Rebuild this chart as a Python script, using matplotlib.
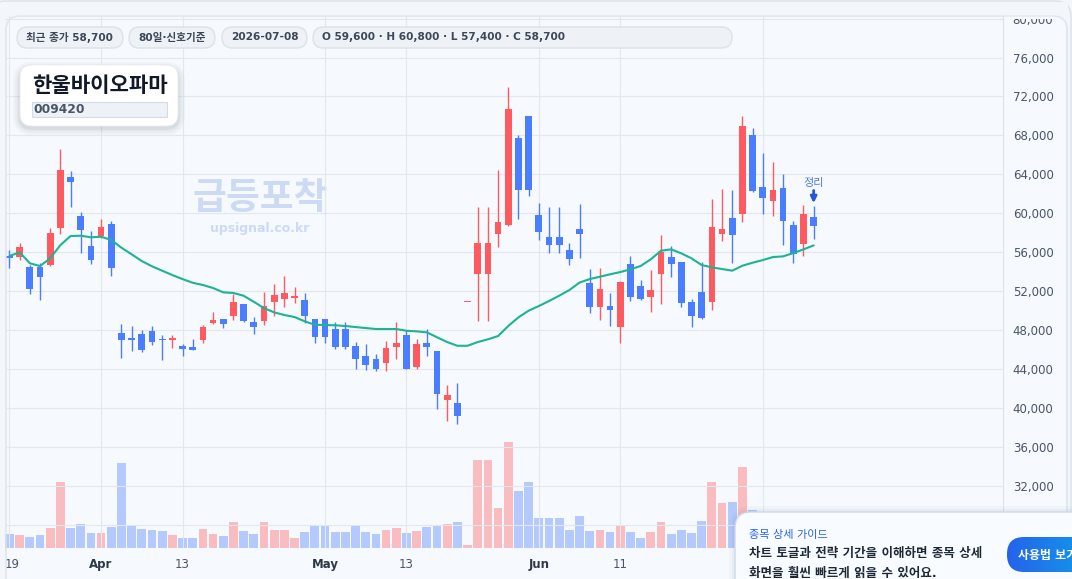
import numpy as np
import pandas as pd
import matplotlib
matplotlib.use('Agg')
import matplotlib.pyplot as plt
from matplotlib.patches import FancyBboxPatch, Rectangle
from matplotlib.transforms import IdentityTransform, ScaledTranslation
from matplotlib.colors import LinearSegmentedColormap

plt.rcParams['font.family'] = ['DejaVu Sans', 'Noto Sans CJK KR']

# ---- data ----
dates = pd.bdate_range('2026-03-19', '2026-07-08')

opens = [55600, 55500, 54500, 54500, 54700, 58500, 63700, 59700, 56600, 57700,
         58900, 47700, 47200, 47600, 47900, 47100, 47000, 46400, 46300, 47000,
         48700, 49200, 49500, 50700, 48800, 48900, 50900, 51200, 51300, 51100,
         49200, 49200, 48100, 48100, 46400, 45400, 45000, 44600, 46300, 47500,
         44200, 46700, 45900, 40800, 40500, 50900, 53800, 53800, 57900, 58800,
         67700, 70000, 59800, 57600, 57600, 56200, 58400, 52800, 50400, 50500,
         48300, 54800, 52500, 51400, 53800, 55500, 55000, 50900, 51900, 50900,
         57900, 59500, 59900, 68000, 62700, 61300, 62600, 58800, 56800, 59600]
highs = [56200, 57000, 54700, 54900, 58500, 66600, 64300, 60100, 58200, 59400,
         59200, 48600, 48400, 48000, 48400, 47500, 47500, 46600, 47100, 48500,
         49900, 49200, 51700, 50700, 49400, 51900, 52700, 53600, 52400, 51800,
         49200, 49200, 48800, 48800, 46800, 46600, 45600, 46900, 48800, 47900,
         47100, 48100, 45900, 42400, 42600, 50900, 60600, 60600, 64500, 73000,
         68000, 70000, 61100, 60700, 60700, 57000, 61000, 54300, 54400, 51800,
         53100, 55600, 53200, 54200, 57800, 56600, 55000, 51200, 55000, 61500,
         62500, 62400, 70000, 68800, 66200, 65300, 64000, 59200, 60900, 60800]
lows = [54400, 55200, 51700, 51100, 54600, 57900, 60700, 55900, 54800, 57500,
        53600, 45100, 45900, 45800, 46500, 44900, 46200, 45400, 46000, 46700,
        48600, 48200, 49000, 48800, 47600, 48500, 49500, 50400, 50800, 48700,
        46700, 46700, 46100, 46100, 44000, 43900, 43800, 43800, 45000, 44000,
        44000, 45400, 39900, 38700, 38400, 50900, 48900, 48900, 56500, 58700,
        59400, 61800, 57300, 55900, 55900, 54700, 55400, 49800, 49000, 48400,
        46700, 51000, 51100, 49900, 50700, 53500, 50400, 48300, 49200, 50100,
        57200, 54900, 59100, 62200, 59900, 59700, 56700, 54900, 55600, 57400]
closes = [55400, 56500, 52200, 53500, 58000, 64400, 63200, 58300, 55200, 58600,
          54400, 47000, 47000, 46000, 46800, 47000, 47200, 46100, 46000, 48300,
          49000, 48600, 50900, 48900, 48300, 50500, 51600, 51800, 51500, 49500,
          47300, 47300, 46300, 46300, 45000, 44400, 44000, 46200, 46700, 44000,
          46600, 46300, 41400, 41300, 39200, 50900, 57000, 57000, 59100, 70700,
          62400, 62400, 58100, 56700, 56700, 55300, 57900, 50400, 52200, 50100,
          53000, 51400, 51200, 52100, 56000, 54800, 50800, 49500, 49300, 58600,
          58400, 57800, 69000, 62300, 61600, 62400, 59200, 55800, 59900, 58700]
ma20 = [55620, 56000, 54870, 54590, 55380, 56740, 57670, 57700, 57540, 57600,
        57260, 56470, 55790, 55100, 54560, 54110, 53660, 53250, 52870, 52640,
        52330, 51890, 51820, 51540, 50920, 50270, 49830, 49560, 49350, 48910,
        48560, 48530, 48500, 48430, 48320, 48220, 48120, 48120, 48120, 47940,
        47880, 47780, 47270, 46780, 46400, 46400, 46780, 47060, 47400, 48430,
        49320, 50000, 50480, 50990, 51540, 52120, 52890, 53250, 53490, 53740,
        53970, 54250, 54590, 55280, 56160, 56300, 55890, 55380, 54690, 54450,
        54280, 54110, 54620, 54930, 55200, 55510, 55580, 55920, 56300, 56710]
# volume, thousand shares
volume = [336, 312, 264, 312, 480, 1584, 480, 576, 360, 360,
          504, 2040, 528, 456, 432, 408, 312, 240, 240, 456,
          336, 288, 624, 408, 336, 624, 432, 432, 240, 384,
          528, 528, 384, 384, 528, 384, 336, 432, 480, 360,
          408, 504, 528, 576, 624, 72, 2112, 2112, 960, 2544,
          1368, 1584, 720, 720, 720, 432, 768, 408, 432, 384,
          528, 384, 240, 384, 624, 336, 432, 360, 648, 1584,
          1080, 1104, 1944, 912, 480, 440, 560, 400, 520, 360]

tick_dates = ['2026-03-19', '2026-04-01', '2026-04-13', '2026-05-01',
              '2026-05-13', '2026-06-01', '2026-06-11', '2026-07-01']
tick_labels = ['19', 'Apr', '13', 'May', '13', 'Jun', '11', 'Jul']
month_labels = ['Apr', 'May', 'Jun', 'Jul']

price_ticks = list(range(28000, 80001, 4000))

name = '한울바이오파마'
code = '009420'
pills = ['최근 종가 58,700', '80일·신호기준', '2026-07-08',
         'O 59,600 · H 60,800 · L 57,400 · C 58,700']

UP = '#ff5a5f'
DOWN = '#4a7dff'
MA_C = '#1db394'
PAGE = '#f3f6fa'
CARD = '#f6f9fd'
PLOT = '#f5f9ff'
GRID = '#e3e8ef'

W, H = 1072, 579
fig = plt.figure(figsize=(W / 100, H / 100), dpi=100)
fig.patch.set_facecolor(PAGE)
PX = IdentityTransform()


def rbox(x0, y0, x1, y1, r, z, **kw):
    p = FancyBboxPatch((x0, H - y1), x1 - x0, y1 - y0,
                       boxstyle=f'round,pad=0,rounding_size={r}',
                       transform=PX, zorder=z, **kw)
    fig.add_artist(p)
    return p


def ftext(x, y, s, z=6, **kw):
    return fig.text(x / W, 1 - y / H, s, zorder=z, **kw)


# outer frame and inner panel
rbox(-10, 1, 1071, 640, 16, -3, facecolor=PAGE, edgecolor='#dbe2ec', lw=1)
rbox(6, 16, 1067, 640, 14, -2, facecolor=CARD, edgecolor='#e2e7ef', lw=1)

x = np.arange(len(dates))
o = np.array(opens)
c = np.array(closes)
up = c >= o
cols = np.where(up, UP, DOWN)

rect = [5 / W, 1 - 548 / H, 998 / W, 533 / H]
axv = fig.add_axes(rect, zorder=0)
ax = fig.add_axes(rect, zorder=1)
xlim = (-0.44, 97.6)

axv.set_facecolor(PLOT)
axv.bar(x, volume, width=0.86, color=cols, alpha=0.38, lw=0)
axv.set_xlim(*xlim)
axv.set_ylim(0, 12792)
axv.axis('off')

ax.patch.set_visible(False)
ax.set_xlim(*xlim)
ax.set_ylim(25630, 80370)
ax.vlines(x, lows, highs, colors=cols, lw=1.0, zorder=3)
body = np.maximum(np.abs(c - o), 90)
ax.bar(x, body, bottom=np.minimum(o, c), width=0.66, color=cols, lw=0, zorder=4)
ax.plot(x, ma20, color=MA_C, lw=1.5, zorder=5, solid_capstyle='round')

ax.yaxis.tick_right()
ax.set_yticks(price_ticks)
ax.set_yticklabels([f'{v:,}' for v in price_ticks])
ax.tick_params(axis='y', length=0, pad=7, labelsize=8.5, labelcolor='#4a5568')

pos = [dates.get_loc(pd.Timestamp(d)) for d in tick_dates]
ax.set_xticks(pos)
ax.set_xticklabels(tick_labels)
ax.tick_params(axis='x', length=0, pad=7, labelsize=8.5, labelcolor='#4a5568')
xlabs = ax.get_xticklabels()
for lab in xlabs:
    if lab.get_text() in month_labels:
        lab.set_fontweight('bold')
        lab.set_color('#2d3748')
# first date label sits a little to the right, inside the panel
xlabs[0].set_transform(xlabs[0].get_transform() +
                       ScaledTranslation(3 / 100, 0, fig.dpi_scale_trans))

ax.grid(True, color=GRID, lw=0.8, zorder=0)
for s in ['top', 'left', 'bottom']:
    ax.spines[s].set_visible(False)
ax.spines['right'].set_color('#dde3ea')

# "정리" marker above last candle
last = len(dates) - 1
ax.text(last, 63100, '정리', ha='center', va='center', fontsize=8,
        color='#4f7ad6', zorder=6)
ax.annotate('', xy=(last, 61050), xytext=(last, 62350),
            arrowprops=dict(arrowstyle='-|>', color='#2456d6', lw=2,
                            mutation_scale=9, shrinkA=0, shrinkB=0), zorder=6)

# watermark
ftext(260, 199, '급등포착', z=0.5, ha='center', va='center', fontsize=26.5,
      fontweight='bold', color='#cddaf4')
ftext(260, 228, 'upsignal.co.kr', z=0.5, ha='center', va='center', fontsize=9,
      fontweight='bold', color='#cddaf4')

# cover above the panel so the top price label gets clipped
fig.add_artist(Rectangle((2, H - 16), 1066, 14.5, transform=PX, zorder=3,
                         facecolor=PAGE, edgecolor='none'))
fig.add_artist(Rectangle((1004, H - 18.5), 50, 4, transform=PX, zorder=3,
                         facecolor=CARD, edgecolor='none'))
rbox(6, 16, 1067, 640, 14, 3.1, facecolor='none', edgecolor='#e2e7ef', lw=1)

# header pills
pill_x = [(17, 123), (129, 215), (222, 307), (313, 732)]
for (x0, x1), s in zip(pill_x, pills):
    rbox(x0, 27, x1, 48, 10.5, 4, facecolor='#eef2f7', edgecolor='#dce2ea', lw=1)
    ftext(x0 + 9, 37.5, s, ha='left', va='center', fontsize=7.6,
          fontweight='bold', color='#3d4757')

# title card with soft shadow
for k, a in [(7, 0.025), (5, 0.03), (3, 0.04), (1.5, 0.05)]:
    rbox(20 - k, 67 - k + 2, 178 + k, 126 + k + 2, 12 + k, 4,
         facecolor='#1f2a44', alpha=a, edgecolor='none')
rbox(20, 65, 178, 126, 12, 4.2, facecolor='white', edgecolor='#e8ecf2', lw=0.6)
ftext(32, 86, name, ha='left', va='center', fontsize=15.2, fontweight='bold',
      color='#111827', family=['Noto Sans CJK KR'])
fig.add_artist(Rectangle((32, H - 117), 135, 15, transform=PX, zorder=4.3,
                         facecolor='#eef1f6', edgecolor='#d5dbe4', lw=0.8))
ftext(33, 110, code, ha='left', va='center', fontsize=8.8, fontweight='bold',
      color='#4a5568')

# guide popup bottom-right
for k, a in [(6, 0.025), (3, 0.035)]:
    rbox(735 - k, 512 - k, 1100 + k, 640, 16 + k, 5,
         facecolor='#1f2a44', alpha=a, edgecolor='none')
rbox(735, 512, 1100, 640, 16, 5.2, facecolor='#f8fbff', edgecolor='#cbd8ec', lw=1)
ftext(749, 535, '종목 상세 가이드', ha='left', va='center', fontsize=8,
      color='#2563eb')
ftext(749, 553, '차트 토글과 전략 기간을 이해하면 종목 상세', ha='left',
      va='center', fontsize=9.0, fontweight='bold', color='#1f2937')
ftext(749, 573, '화면을 훨씬 빠르게 읽을 수 있어요.', ha='left',
      va='center', fontsize=9.0, fontweight='bold', color='#1f2937')

bax = fig.add_axes([1007 / W, 1 - 572 / H, 100 / W, 35 / H], zorder=7)
bax.set_axis_off()
grad = np.linspace(0, 1, 100).reshape(1, -1)
im = bax.imshow(grad, extent=[0, 100, 0, 35], aspect='auto',
                cmap=LinearSegmentedColormap.from_list('btn', ['#2563eb', '#0ea5e9']))
bax.set_xlim(0, 100)
bax.set_ylim(0, 35)
clip = FancyBboxPatch((0, 0), 100, 35, boxstyle='round,pad=0,rounding_size=17',
                      transform=bax.transData, facecolor='none', edgecolor='none')
bax.add_patch(clip)
im.set_clip_path(clip)
ftext(1018, 555, '사용법 보기', z=8, ha='left', va='center', fontsize=8.6,
      fontweight='bold', color='white')

fig.savefig('out.png', dpi=100, facecolor=fig.get_facecolor())
